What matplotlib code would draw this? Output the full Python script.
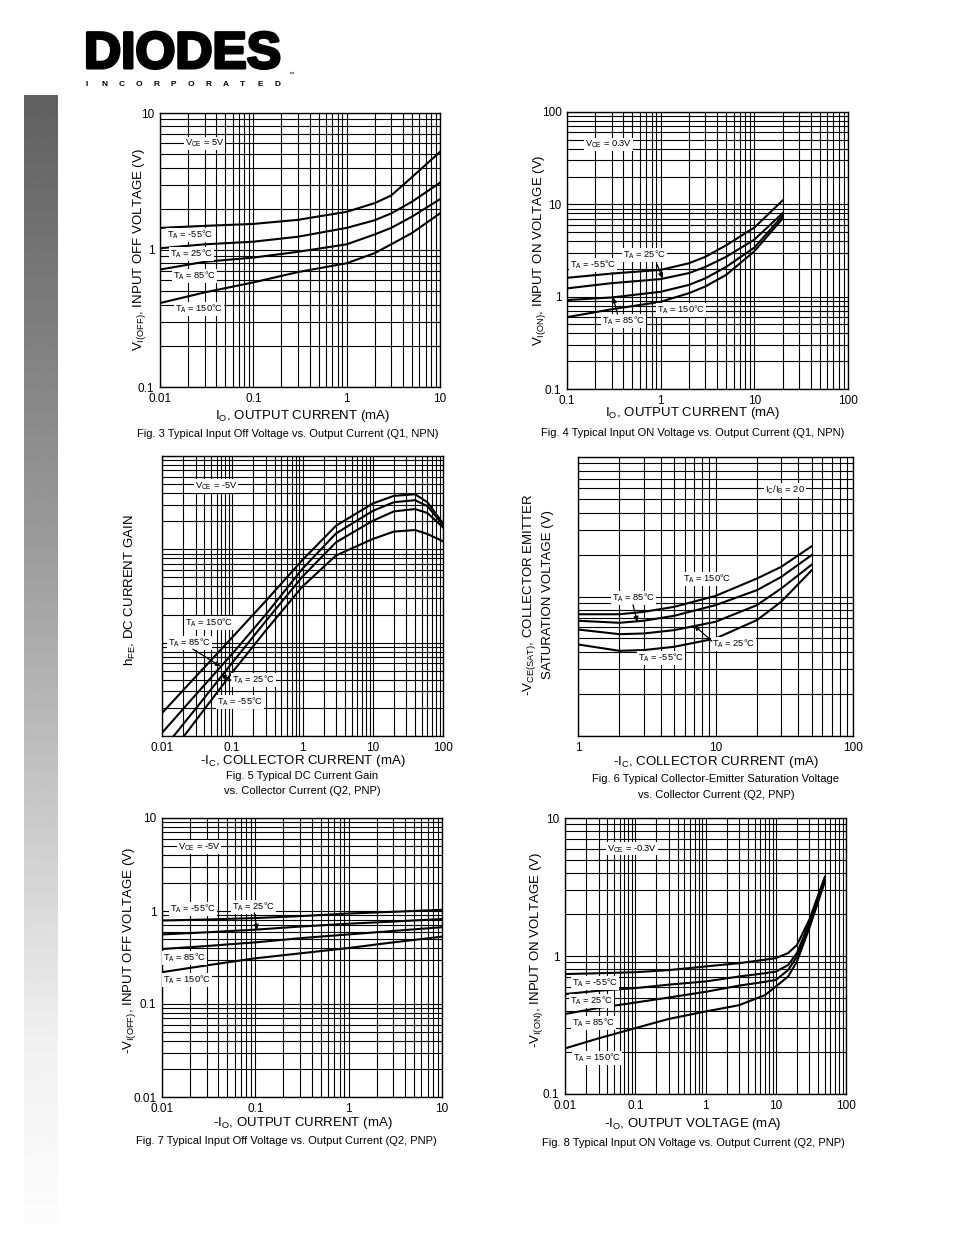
import numpy as np
import matplotlib
matplotlib.use('Agg')
import matplotlib.pyplot as plt
import matplotlib.patheffects as pe
from matplotlib.ticker import LogLocator, NullFormatter, FuncFormatter

plt.rcParams['font.family'] = ['Liberation Sans', 'DejaVu Sans']
plt.rcParams['mathtext.fontset'] = 'custom'
plt.rcParams['mathtext.rm'] = 'Liberation Sans'
plt.rcParams['mathtext.default'] = 'regular'

# ---- data ----
# Fig 3: V_I(OFF) vs I_O (Q1, NPN)
f3_x = [0.01, 0.03, 0.1, 0.3, 1, 2, 3, 5, 10]
f3_m55 = [1.45, 1.5, 1.55, 1.66, 1.9, 2.2, 2.5, 3.4, 5.2]
f3_25 = [1.03, 1.1, 1.15, 1.25, 1.45, 1.65, 1.85, 2.25, 3.1]
f3_85 = [0.72, 0.82, 0.88, 0.97, 1.1, 1.3, 1.45, 1.75, 2.35]
f3_150 = [0.41, 0.49, 0.58, 0.69, 0.8, 0.95, 1.1, 1.33, 1.85]

# Fig 4: V_I(ON) vs I_O (Q1, NPN)
f4_x = [0.1, 0.3, 1, 2, 3, 5, 10, 20]
f4_m55 = [1.6, 1.78, 1.95, 2.3, 2.7, 3.6, 5.6, 11.0]
f4_25 = [1.23, 1.4, 1.55, 1.8, 2.1, 2.7, 4.15, 8.0]
f4_85 = [0.92, 0.98, 1.13, 1.34, 1.58, 2.1, 3.4, 7.5]
f4_150 = [0.6, 0.73, 0.88, 1.09, 1.29, 1.72, 3.1, 7.0]

# Fig 5: hFE vs -I_C (Q2, PNP)
f5_x = [0.01, 0.03, 0.1, 0.3, 1, 3, 10, 20, 40, 60, 100]
f5_150 = [1.76, 4.3, 11.4, 28, 77, 179, 310, 374, 389, 320, 190]
f5_85 = [1.08, 2.75, 7.6, 20, 62, 148, 258, 320, 336, 290, 183]
f5_25 = [0.70, 1.95, 6.1, 17, 51, 119, 202, 255, 270, 245, 172]
f5_m55 = [0.49, 1.45, 4.8, 13.5, 40, 86, 129, 155, 161, 146, 122]

# Fig 6: -V_CE(SAT) vs -I_C (Q2, PNP)
f6_x = [1, 2, 3, 5, 10, 20, 30, 50]
f6_150 = [0.0746, 0.0746, 0.0776, 0.0843, 0.101, 0.1345, 0.163, 0.229]
f6_85 = [0.067, 0.0648, 0.067, 0.0727, 0.0867, 0.111, 0.138, 0.198]
f6_25 = [0.058, 0.0537, 0.0543, 0.0574, 0.0659, 0.0867, 0.114, 0.169]
f6_m55 = [0.0453, 0.0408, 0.0413, 0.0436, 0.05, 0.0677, 0.0916, 0.154]

# Fig 7: -V_I(OFF) vs -I_O (Q2, PNP)
f7_x = [0.01, 0.03, 0.1, 0.3, 1, 3, 10]
f7_m55 = [0.79, 0.81, 0.84, 0.88, 0.94, 0.98, 1.03]
f7_25 = [0.56, 0.59, 0.63, 0.68, 0.73, 0.77, 0.82]
f7_85 = [0.39, 0.42, 0.46, 0.51, 0.56, 0.61, 0.67]
f7_150 = [0.22, 0.26, 0.31, 0.35, 0.40, 0.46, 0.53]

# Fig 8: -V_I(ON) vs -I_O (Q2, PNP)
f8_x = [0.01, 0.03, 0.1, 0.3, 1, 3, 7, 10, 15, 20, 30, 50]
f8_m55 = [0.74, 0.75, 0.763, 0.79, 0.84, 0.887, 0.94, 0.965, 1.05, 1.2, 1.83, 3.75]
f8_25 = [0.53, 0.56, 0.585, 0.62, 0.654, 0.71, 0.75, 0.77, 0.86, 1.05, 1.73, 3.65]
f8_85 = [0.38, 0.42, 0.46, 0.50, 0.55, 0.61, 0.65, 0.67, 0.79, 0.99, 1.64, 3.55]
f8_150 = [0.214, 0.253, 0.30, 0.35, 0.396, 0.44, 0.52, 0.60, 0.71, 0.91, 1.59, 3.45]

W, H = 954, 1235
fig = plt.figure(figsize=(W / 100, H / 100), dpi=100)


def box(l, t, r, b):
    return [l / W, 1 - b / H, (r - l) / W, (b - t) / H]


def ftext(x, y, s, **kw):
    kw.setdefault('ha', 'center')
    kw.setdefault('va', 'center')
    return fig.text(x / W, 1 - y / H, s, **kw)


def setup(ax, xlim, ylim, ylab=True):
    ax.set_xscale('log')
    ax.set_yscale('log')
    ax.set_xlim(*xlim)
    ax.set_ylim(*ylim)
    for a in (ax.xaxis, ax.yaxis):
        a.set_major_locator(LogLocator(base=10, numticks=20))
        a.set_minor_locator(LogLocator(base=10, subs=np.arange(2, 10), numticks=20))
        a.set_minor_formatter(NullFormatter())
        a.set_major_formatter(FuncFormatter(lambda v, p: f'{v:g}'))
    if not ylab:
        ax.yaxis.set_major_formatter(NullFormatter())
    ax.grid(True, which='both', color='black', lw=0.8)
    ax.tick_params(which='both', length=0, labelsize=8.5, pad=4)
    for s in ax.spines.values():
        s.set_linewidth(1.0)


def curves(ax, x, ys):
    for y in ys:
        ax.plot(x, y, color='black', lw=1.5, zorder=3)


def tag(ax, fx, fy, s, size=6.7):
    ax.text(fx, fy, s, transform=ax.transAxes, fontsize=size, ha='left', va='center',
            bbox=dict(facecolor='white', edgecolor='none', pad=0.6), zorder=5)


def arrow(ax, tip, fx, fy):
    ax.annotate('', xy=tip, xytext=(fx, fy), textcoords='axes fraction',
                arrowprops=dict(arrowstyle='-|>', color='black', lw=0.9, mutation_scale=7,
                                shrinkA=0, shrinkB=0), zorder=6)


# ---- left grey bar ----
gb = fig.add_axes(box(24, 95, 58, 1223))
rows = np.linspace(95, 1223, 400)
shade = np.interp(rows, [95, 550, 1050, 1223], [96, 156, 242, 252])
gb.imshow(shade[:, None], cmap='gray', vmin=0, vmax=255, aspect='auto')
gb.axis('off')

# ---- logo ----
logo = ftext(84, 68, 'DIODES', fontsize=37, weight='bold', ha='left', va='baseline',
             family='Liberation Sans')
logo.set_path_effects([pe.withStroke(linewidth=2.2, foreground='black')])
for i, ch in enumerate('INCORPORATED'):
    ftext(87 + i * 17.3, 84, ch, fontsize=6, weight='bold')
ftext(291, 74, '\u2122', fontsize=4)

# ---- Fig 3 ----
ax = fig.add_axes(box(160, 113, 440, 387))
setup(ax, (0.01, 10), (0.1, 10))
curves(ax, f3_x, [f3_m55, f3_25, f3_85, f3_150])
tag(ax, 0.09, 0.89, 'V$_{CE}$ = 5V')
tag(ax, 0.025, 0.555, 'T$_A$ = -55°C')
tag(ax, 0.036, 0.485, 'T$_A$ = 25°C')
tag(ax, 0.046, 0.405, 'T$_A$ = 85°C')
tag(ax, 0.054, 0.285, 'T$_A$ = 150°C')
ftext(140, 250, 'V$_{I(OFF)}$, INPUT OFF VOLTAGE (V)', fontsize=9.5, rotation=90)
ftext(303, 416, 'I$_O$, OUTPUT CURRENT (mA)', fontsize=9.5)
ftext(288, 434, 'Fig. 3 Typical Input Off Voltage vs. Output Current (Q1, NPN)', fontsize=8)

# ---- Fig 4 ----
ax = fig.add_axes(box(567, 112, 848, 389))
setup(ax, (0.1, 100), (0.1, 100))
curves(ax, f4_x, [f4_m55, f4_25, f4_85, f4_150])
tag(ax, 0.064, 0.884, 'V$_{CE}$ = 0.3V')
tag(ax, 0.011, 0.448, 'T$_A$ = -55°C')
tag(ax, 0.2, 0.484, 'T$_A$ = 25°C')
arrow(ax, (1.05, 1.58), 0.32, 0.45)
tag(ax, 0.125, 0.245, 'T$_A$ = 85°C')
arrow(ax, (0.31, 0.98), 0.18, 0.27)
tag(ax, 0.32, 0.285, 'T$_A$ = 150°C')
ftext(540, 250, 'V$_{I(ON)}$, INPUT ON VOLTAGE (V)', fontsize=9.5, rotation=90)
ftext(693, 413, 'I$_O$, OUTPUT CURRENT (mA)', fontsize=9.5)
ftext(693, 433, 'Fig. 4 Typical Input ON Voltage vs. Output Current (Q1, NPN)', fontsize=8)

# ---- Fig 5 ----
ax = fig.add_axes(box(162, 456, 443, 736))
setup(ax, (0.01, 100), (1, 1000), ylab=False)
curves(ax, f5_x, [f5_150, f5_85, f5_25, f5_m55])
tag(ax, 0.117, 0.893, 'V$_{CE}$ = -5V')
tag(ax, 0.082, 0.404, 'T$_A$ = 150°C')
tag(ax, 0.021, 0.332, 'T$_A$ = 85°C')
arrow(ax, (0.068, 5.6), 0.11, 0.31)
tag(ax, 0.249, 0.2, 'T$_A$ = 25°C')
arrow(ax, (0.069, 4.5), 0.245, 0.2)
tag(ax, 0.196, 0.121, 'T$_A$ = -55°C')
ftext(130, 590, 'h$_{FE}$, DC CURRENT GAIN', fontsize=9.5, rotation=90)
ftext(303, 761, '-I$_C$, COLLECTOR CURRENT (mA)', fontsize=9.5)
ftext(302, 776, 'Fig. 5 Typical DC Current Gain', fontsize=8)
ftext(302, 791, 'vs. Collector Current (Q2, PNP)', fontsize=8)

# ---- Fig 6 ----
ax = fig.add_axes(box(578, 457, 853, 736))
setup(ax, (1, 100), (0.01, 1), ylab=False)
curves(ax, f6_x, [f6_150, f6_85, f6_25, f6_m55])
tag(ax, 0.68, 0.882, 'I$_C$/I$_B$ = 20')
tag(ax, 0.382, 0.563, 'T$_A$ = 150°C')
tag(ax, 0.124, 0.495, 'T$_A$ = 85°C')
arrow(ax, (2.7, 0.066), 0.2, 0.47)
tag(ax, 0.487, 0.33, 'T$_A$ = 25°C')
arrow(ax, (7, 0.062), 0.487, 0.34)
tag(ax, 0.218, 0.28, 'T$_A$ = -55°C')
ftext(530, 595, '-V$_{CE(SAT)}$, COLLECTOR EMITTER', fontsize=9.5, rotation=90)
ftext(548, 595, 'SATURATION VOLTAGE (V)', fontsize=9.5, rotation=90)
ftext(716, 762, '-I$_C$, COLLECTOR CURRENT (mA)', fontsize=9.5)
ftext(716, 779, 'Fig. 6 Typical Collector-Emitter Saturation Voltage', fontsize=8)
ftext(716, 795, 'vs. Collector Current (Q2, PNP)', fontsize=8)

# ---- Fig 7 ----
ax = fig.add_axes(box(162, 818, 442, 1097))
setup(ax, (0.01, 10), (0.01, 10))
curves(ax, f7_x, [f7_m55, f7_25, f7_85, f7_150])
tag(ax, 0.057, 0.896, 'V$_{CE}$ = -5V')
tag(ax, 0.029, 0.674, 'T$_A$ = -55°C')
tag(ax, 0.25, 0.681, 'T$_A$ = 25°C')
arrow(ax, (0.104, 0.63), 0.33, 0.66)
tag(ax, 0.004, 0.498, 'T$_A$ = 85°C')
tag(ax, 0.004, 0.42, 'T$_A$ = 150°C')
ftext(130, 950, '-V$_{I(OFF)}$, INPUT OFF VOLTAGE (V)', fontsize=9.5, rotation=90)
ftext(303, 1123, '-I$_O$, OUTPUT CURRENT (mA)', fontsize=9.5)
ftext(286, 1141, 'Fig. 7 Typical Input Off Voltage vs. Output Current (Q2, PNP)', fontsize=8)

# ---- Fig 8 ----
ax = fig.add_axes(box(565, 818, 846, 1094))
setup(ax, (0.01, 100), (0.1, 10))
curves(ax, f8_x, [f8_m55, f8_25, f8_85, f8_150])
tag(ax, 0.15, 0.888, 'V$_{CE}$ = -0.3V')
tag(ax, 0.025, 0.402, 'T$_A$ = -55°C')
tag(ax, 0.018, 0.337, 'T$_A$ = 25°C')
tag(ax, 0.025, 0.257, 'T$_A$ = 85°C')
tag(ax, 0.028, 0.13, 'T$_A$ = 150°C')
ftext(537, 950, '-V$_{I(ON)}$, INPUT ON VOLTAGE (V)', fontsize=9.5, rotation=90)
ftext(693, 1124, '-I$_O$, OUTPUT VOLTAGE (mA)', fontsize=9.5)
ftext(693, 1143, 'Fig. 8 Typical Input ON Voltage vs. Output Current (Q2, PNP)', fontsize=8)

fig.savefig('out.png', dpi=100)
